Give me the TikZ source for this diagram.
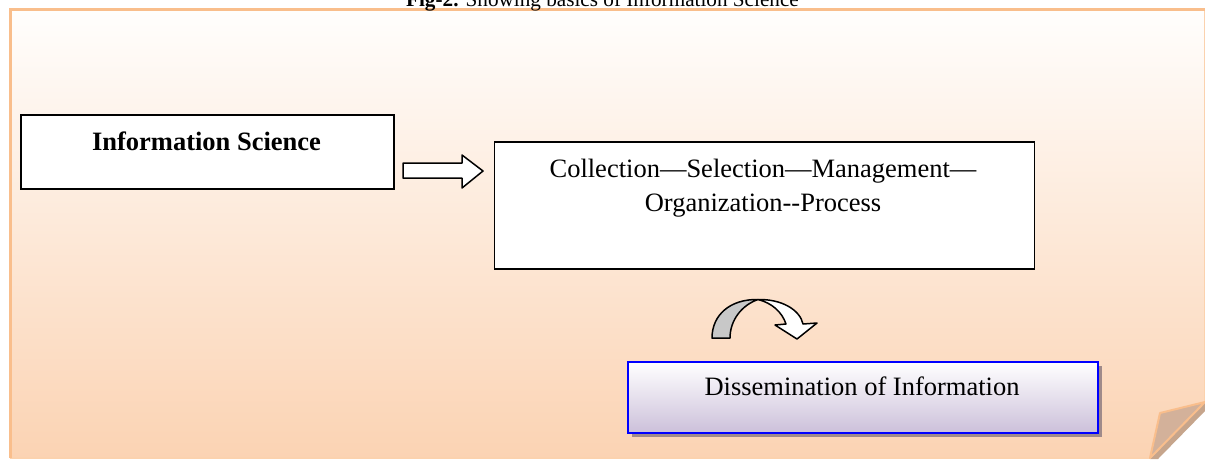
\documentclass[tikz,border=0pt]{standalone}
\usepackage{fontspec}
\setmainfont{Liberation Serif}
\usetikzlibrary{shadows}
\definecolor{pageTop}{HTML}{FFFEFD}
\definecolor{pageBot}{HTML}{FBD3B3}
\definecolor{pageEdge}{HTML}{F9BE8C}
\definecolor{foldFill}{HTML}{D3B19A}
\definecolor{foldShade}{HTML}{C6A58C}
\definecolor{boxBot}{HTML}{CCC0DA}
\definecolor{boxShadow}{HTML}{9F8A8A}
\definecolor{arcGray}{HTML}{C8C8C8}
\begin{document}
\begin{tikzpicture}[x=1pt,y=-1pt,
  plainbox/.style={draw=black, line width=1.8pt, fill=white, rectangle, inner sep=0pt, anchor=north west},
  bigtext/.style={font=\fontsize{26.5}{34}\selectfont, inner sep=0pt, align=center, anchor=base},
  blockarrow/.style={draw=black, line width=1.5pt, line join=round}]
\useasboundingbox (0,0) rectangle (1205,459);

% page with peach gradient and folded corner
\fill[white] (0,0) rectangle (1205,459);
\fill[foldShade] (1150,459) -- (1205,402) -- (1205,411) -- (1158,459) -- cycle;
\shade[top color=pageTop, bottom color=pageBot]
  (10,9.5) -- (1205,9.5) -- (1205,402) -- (1150,458) -- (10,458) -- cycle;
\draw[pageEdge!70, line width=1.5pt] (1204.5,9.5) -- (1204.5,402);
\draw[pageEdge!70, line width=1.5pt] (10,458) -- (1150,458);
\draw[pageEdge, line width=3pt] (10,458) -- (10,9.5) -- (1205,9.5);
\draw[pageEdge, line width=2pt, fill=foldFill, line join=round]
  (1150,458) -- (1160,413) -- (1205,402) -- cycle;

% caption
\node[font=\fontsize{21.2}{24}\selectfont, inner sep=0pt, anchor=base] (title) at (602.5,6.5)
  {\textbf{Fig-2.} Showing basics of Information Science};

% boxes
\node[plainbox, minimum width=373, minimum height=74] (info) at (20,114) {};
\node[bigtext, font=\fontsize{26.5}{34}\selectfont\bfseries] (infotext) at (206.5,150) {Information Science};

\node[plainbox, minimum width=540, minimum height=127] (proc) at (493.5,141) {};
% the base anchor of a two-line node sits on its last line
\node[bigtext] (proctext) at (763,211) {Collection—Selection—Management—\\Organization{-}{-}Process};

\node[draw=blue, line width=2pt, top color=white, bottom color=boxBot, anchor=north west,
  minimum width=470, minimum height=71, inner sep=0pt,
  drop shadow={shadow xshift=3.5pt, shadow yshift=-3.5pt, fill=boxShadow, opacity=1}]
  (diss) at (627,361) {};
\node[bigtext] (disstext) at (862,395.5) {Dissemination of Information};

% hollow block arrow between the first two boxes
\coordinate (ha) at (403,171);
\draw[blockarrow, fill=white] (ha) ++(0,-8) -- ++(59,0) -- ++(0,-8) -- ++(21,16)
  -- ++(-21,17) -- ++(0,-10) -- ++(-59,0) -- cycle;

% curved arrow towards the dissemination box
\coordinate (ca) at (758,299.5);
\draw[blockarrow, fill=white] (ca) .. controls (782,299) and (800,310) .. (803,324)
  -- (817,323) -- (797,339) -- (775,325) -- (786,324)
  .. controls (782,312) and (772,303) .. (ca) -- cycle;
\draw[blockarrow, fill=arcGray] (ca) .. controls (730,299) and (712,315) .. (712,338)
  -- (730,338) .. controls (730,320) and (742,305) .. (ca) -- cycle;
\end{tikzpicture}
\end{document}
